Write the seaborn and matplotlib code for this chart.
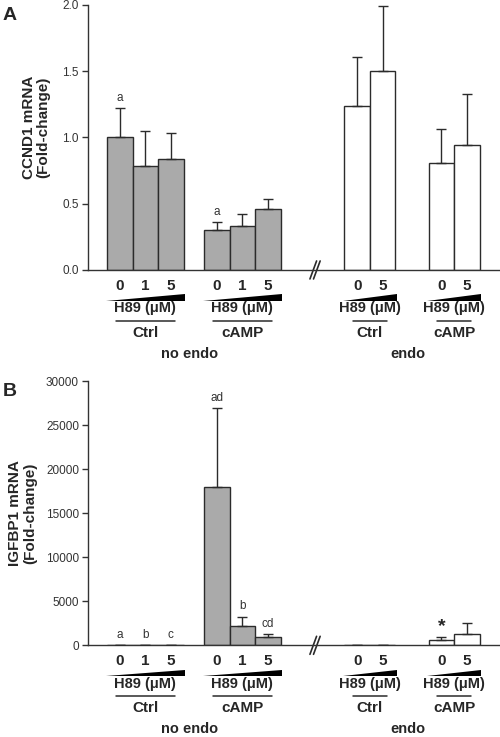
import numpy as np
import pandas as pd
import seaborn as sns
import matplotlib.pyplot as plt
from matplotlib import transforms

# bar order: no endo Ctrl (H89 0,1,5), no endo cAMP (0,1,5), endo Ctrl (0,5), endo cAMP (0,5)
tissue = ["no endo"] * 6 + ["endo"] * 4
treatment = ["Ctrl"] * 3 + ["cAMP"] * 3 + ["Ctrl"] * 2 + ["cAMP"] * 2
h89_dose = ["0", "1", "5", "0", "1", "5", "0", "5", "0", "5"]

ccnd1_mean = [1.00, 0.785, 0.84, 0.30, 0.33, 0.46, 1.24, 1.505, 0.81, 0.945]
ccnd1_err = [0.22, 0.265, 0.19, 0.06, 0.09, 0.075, 0.37, 0.49, 0.25, 0.385]
ccnd1_marks = ["a", "", "", "a", "", "", "", "", "", ""]

igfbp1_mean = [1, 1, 1, 18000, 2200, 980, 1, 1, 600, 1250]
igfbp1_err = [1, 1, 1, 8900, 1050, 270, 1, 1, 380, 1320]
igfbp1_marks = ["a", "b", "c", "ad", "b", "cd", "", "", "*", ""]

# layout (bar slots along x)
bar_x = [0, 1, 2, 3.8, 4.8, 5.8, 9.3, 10.3, 12.6, 13.6]
line_half = {"no endo": 1.15, "endo": 0.67}
tissue_x = {"no endo": 2.75, "endo": 11.3}
break_x = 7.65

sns.set_style("ticks")
plt.rcParams["font.family"] = ["Liberation Sans", "DejaVu Sans"]

fig = plt.figure(figsize=(5.0, 7.37), dpi=100)
ax_a = fig.add_axes([0.176, 0.6337, 0.824, 0.3596])
ax_b = fig.add_axes([0.176, 0.1244, 0.824, 0.3586])

dark = "#2b2b2b"


def draw_panel(ax, mean, err, marks, ymax, ystep, fmt, ylabel, letter, lab_xy):
    df = pd.DataFrame({"x": bar_x, "value": mean, "tissue": tissue})
    sns.barplot(data=df, x="x", y="value", hue="tissue",
                palette={"no endo": "#aaaaaa", "endo": "white"},
                native_scale=True, dodge=False, width=1.0, saturation=1,
                edgecolor=dark, linewidth=1.0, errorbar=None, legend=False, ax=ax)
    ax.errorbar(bar_x, mean, yerr=[np.zeros(len(mean)), err], fmt="none",
                ecolor=dark, elinewidth=1.0, capsize=3.5, capthick=1.0, zorder=3)

    ax.set_xlim(-1.25, 14.9)
    ax.set_ylim(0, ymax)
    ticks = np.arange(0, ymax + ystep / 2, ystep)
    ax.set_yticks(ticks)
    ax.set_yticklabels([fmt.format(t) for t in ticks])
    ax.set_xticks([])
    ax.set_xlabel("")
    ax.set_ylabel(ylabel, fontsize=11, fontweight="bold", linespacing=1.05)
    ax.yaxis.set_label_coords(*lab_xy)
    ax.tick_params(axis="y", direction="out", length=4.5, width=1.0,
                   colors="#333333", labelsize=8.5, pad=2)
    sns.despine(ax=ax)
    for s in ("left", "bottom"):
        ax.spines[s].set_color("#333333")
        ax.spines[s].set_linewidth(1.0)

    # significance letters above the error bars
    for x, m, e, t in zip(bar_x, mean, err, marks):
        if not t:
            continue
        if t == "*":
            ax.annotate(t, (x, m + e), xytext=(0, 7.5), textcoords="offset points",
                        ha="center", va="center", fontsize=14, fontweight="bold")
        else:
            ax.annotate(t, (x, m + e), xytext=(0, 7.5), textcoords="offset points",
                        ha="center", va="center", fontsize=8.5, color="#333333")

    # labels under the axis
    axh = ax.get_position().height * fig.get_figheight() * fig.dpi
    trans = transforms.blended_transform_factory(ax.transData, ax.transAxes)

    def below(px):
        return -px / axh

    for x, d in zip(bar_x, h89_dose):
        ax.text(x, below(16), d, transform=trans, ha="center", va="center",
                fontsize=11, fontweight="bold")

    groups = []
    for i, (ti, tr) in enumerate(zip(tissue, treatment)):
        if not groups or groups[-1][0] != (ti, tr):
            groups.append([(ti, tr), []])
        groups[-1][1].append(bar_x[i])

    for (ti, tr), xs in groups:
        x0, x1 = xs[0] - 0.55, xs[-1] + 0.55
        cx = (xs[0] + xs[-1]) / 2
        ax.fill([x0, x1, x1], [below(31), below(31), below(24.5)], transform=trans,
                color="black", clip_on=False, lw=0)
        ax.text(cx, below(38.5), "H89 (μM)", transform=trans, ha="center",
                va="center", fontsize=10.5, fontweight="bold")
        h = line_half[ti]
        ax.plot([cx - h, cx + h], [below(51), below(51)], transform=trans,
                color=dark, lw=1.1, clip_on=False)
        ax.text(cx, below(63), tr, transform=trans, ha="center", va="center",
                fontsize=11, fontweight="bold")

    for ti, x in tissue_x.items():
        ax.text(x, below(84), ti, transform=trans, ha="center", va="center",
                fontsize=10.5, fontweight="bold")

    # axis break mark
    for dx in (-0.07, 0.07):
        ax.plot([break_x + dx - 0.13, break_x + dx + 0.13], [below(9), below(-9)],
                transform=trans, color=dark, lw=1.2, clip_on=False)

    fig.text(0.006, ax.get_position().y1 - 0.003, letter, fontsize=14,
             fontweight="bold", va="top", ha="left")


draw_panel(ax_a, ccnd1_mean, ccnd1_err, ccnd1_marks, 2.0, 0.5, "{:.1f}",
           "CCND1 mRNA\n(Fold-change)", "A", (-0.092, 0.54))
draw_panel(ax_b, igfbp1_mean, igfbp1_err, igfbp1_marks, 30000, 5000, "{:.0f}",
           "IGFBP1 mRNA\n(Fold-change)", "B", (-0.124, 0.5))

fig.savefig("out.png", dpi=100)
